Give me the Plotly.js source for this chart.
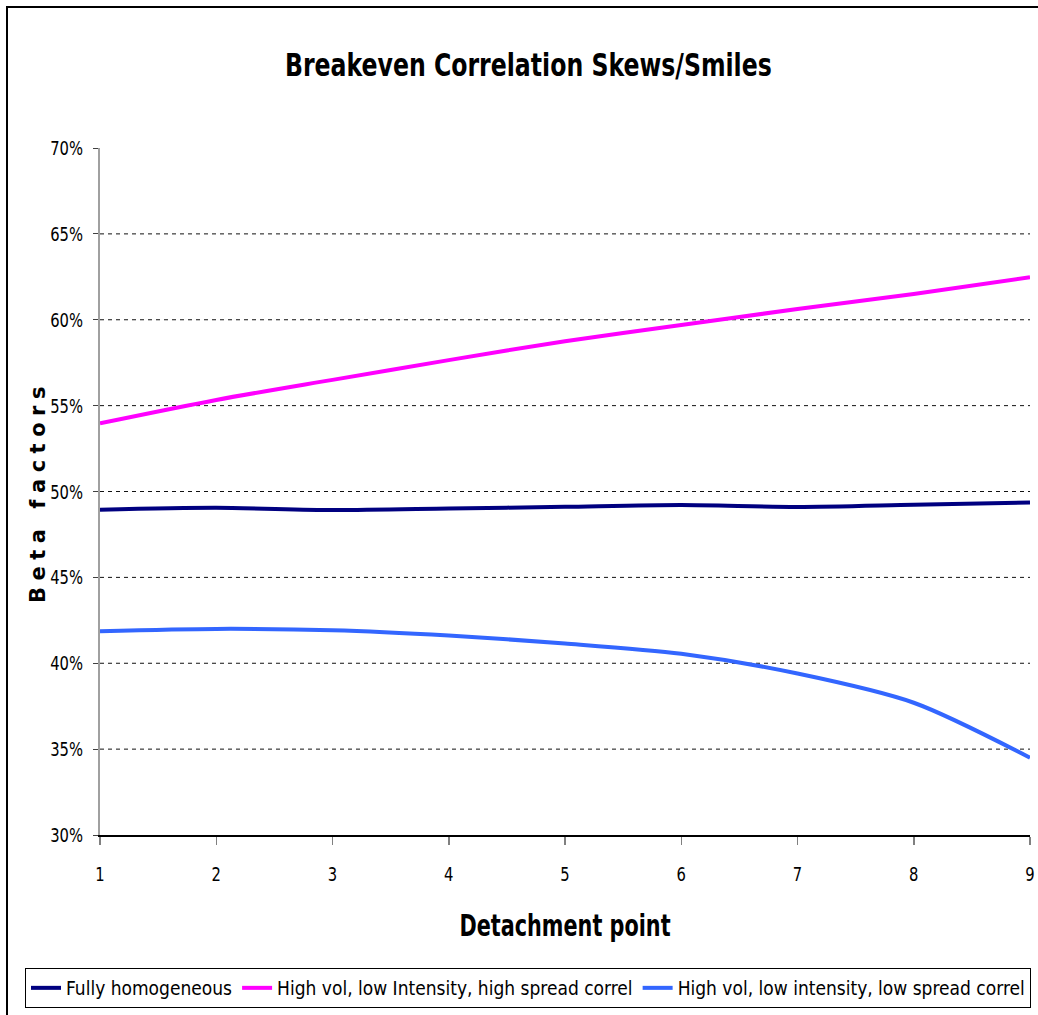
<!DOCTYPE html>
<html>
<head>
<meta charset="utf-8">
<script src="https://cdn.plot.ly/plotly-3.0.1.min.js"></script>
<style>
  html, body { margin: 0; padding: 0; background: #fff; }
  #wrap { position: relative; width: 1038px; height: 1015px; overflow: hidden; }
  #chart { width: 1038px; height: 1015px; }
  #frame { position: absolute; left: 6px; top: 6px; width: 1100px; height: 1100px;
           border-left: 2px solid #000; border-top: 2px solid #000; pointer-events: none; }
</style>
</head>
<body>
<div id="wrap">
  <div id="chart"></div>
  <div id="frame"></div>
</div>
<script>
const detachmentPoints = [1, 2, 3, 4, 5, 6, 7, 8, 9];
const fullyHomogeneous = [48.94, 49.05, 48.92, 49.01, 49.11, 49.21, 49.10, 49.23, 49.36];
const highSpreadCorrel = [53.97, 55.33, 56.50, 57.65, 58.75, 59.70, 60.62, 61.50, 62.48];
const lowSpreadCorrel  = [41.87, 42.00, 41.92, 41.61, 41.15, 40.55, 39.40, 37.70, 34.50];
const seriesNames = [
  "Fully homogeneous",
  "High vol, low Intensity, high spread correl",
  "High vol, low intensity, low spread correl"
];
const yTickVals = [30, 35, 40, 45, 50, 55, 60, 65, 70];
const yTickText = yTickVals.map(v => v + "%");
const gridVals = [35, 40, 45, 50, 55, 60, 65];

const NARROW = "'Liberation Sans Narrow', 'DejaVu Sans Condensed', sans-serif";

const W = 1038, H = 1015;
const M = { l: 100, r: 8, t: 148, b: 179 };
const plotW = W - M.l - M.r, plotH = H - M.t - M.b;

function line(name, y, color) {
  return {
    type: "scatter", mode: "lines", name: name,
    x: detachmentPoints, y: y,
    line: { color: color, width: 4, shape: "spline", smoothing: 0.8 },
    hoverinfo: "x+y+name"
  };
}

const data = [
  line(seriesNames[0], fullyHomogeneous, "#000080"),
  line(seriesNames[1], highSpreadCorrel, "#FF00FF"),
  line(seriesNames[2], lowSpreadCorrel, "#3366FF")
];

const shapes = gridVals.map(v => ({
  type: "line", xref: "paper", yref: "y", x0: 0, x1: 1, y0: v, y1: v,
  line: { color: "#111", width: 1, dash: "4px,4px" }, layer: "below"
}));

const layout = {
  width: W, height: H,
  paper_bgcolor: "#fff", plot_bgcolor: "#fff",
  margin: { l: M.l, r: M.r, t: M.t, b: M.b, pad: 0 },
  showlegend: true,
  title: {
    text: "Breakeven Correlation Skews/Smiles",
    font: { family: NARROW, size: 32, color: "#000", weight: "bold" },
    xref: "container", yref: "container",
    x: 0.509, xanchor: "center", y: 0.936, yanchor: "middle"
  },
  xaxis: {
    range: [1, 9], dtick: 1, tick0: 1,
    showgrid: false, zeroline: false,
    showline: true, linecolor: "#000", linewidth: 1.5,
    ticks: "outside", ticklen: 8, tickcolor: "#808080", tickwidth: 1.5,
    tickfont: { family: NARROW, size: 20, color: "#000" },
    ticklabelstandoff: 12,
    title: { text: "Detachment point", font: { family: NARROW, size: 30, color: "#000", weight: "bold" }, standoff: 30 },
    automargin: false
  },
  yaxis: {
    range: [30, 70], tickmode: "array", tickvals: yTickVals, ticktext: yTickText,
    showgrid: false, zeroline: false,
    showline: true, linecolor: "#A0A0A0", linewidth: 2,
    ticks: "outside", ticklen: 5, tickcolor: "#404040", tickwidth: 1,
    tickfont: { family: NARROW, size: 20, color: "#000" },
    ticklabelstandoff: 6,
    title: { text: "Beta factors", font: { family: "'DejaVu Sans', sans-serif", size: 21, color: "#000", weight: "bold" }, standoff: 12 },
    automargin: false
  },
  shapes: shapes,
  legend: {
    orientation: "h",
    xref: "paper", yref: "paper",
    x: (25 - M.l) / plotW, xanchor: "left",
    y: (H - M.b - 968) / plotH, yanchor: "top",
    bordercolor: "#000", borderwidth: 1, bgcolor: "#fff",
    font: { family: NARROW, size: 19, color: "#000" },
    itemwidth: 30, tracegroupgap: 0
  }
};

function squeeze(el, factor) {
  const w = el.getComputedTextLength();
  if (w > 0) {
    el.setAttribute("textLength", (w * factor).toFixed(2));
    el.setAttribute("lengthAdjust", "spacingAndGlyphs");
  }
}

Plotly.newPlot("chart", data, layout, { displayModeBar: false, staticPlot: true }).then(() => {
  const ytg = document.querySelector(".g-ytitle");
  const yt = document.querySelector(".g-ytitle text");
  if (yt) { yt.style.letterSpacing = "6.5px"; }
  if (ytg) { ytg.setAttribute("transform", "translate(20,0)"); }
  const title = document.querySelector(".gtitle");
  if (title) squeeze(title, 0.82);
  const xt = document.querySelector(".g-xtitle text");
  if (xt) squeeze(xt, 0.77);
  document.querySelectorAll(".xtick text, .ytick text").forEach(t => squeeze(t, 0.82));
});
</script>
</body>
</html>
